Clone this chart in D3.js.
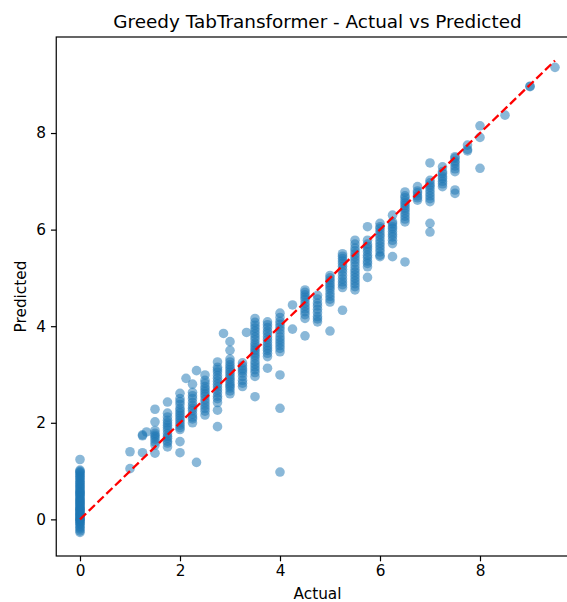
<!DOCTYPE html>
<html>
<head>
<meta charset="utf-8">
<script src="https://cdn.jsdelivr.net/npm/d3@7"></script>
<style>
    html, body { margin: 0; padding: 0; background: #fff; }
    svg { display: block; font-family: "DejaVu Sans", sans-serif; }
</style>
</head>
<body>
<svg id="chart" width="567" height="602"></svg>
<script>
// Actual value levels and the predictions observed at each level
const actualLevels = [0, 1, 1.25, 1.33, 1.5, 1.75, 2, 2.12, 2.25, 2.33, 2.5, 2.75, 2.87, 3, 3.25, 3.33,
    3.5, 3.75, 4, 4.25, 4.5, 4.75, 5, 5.25, 5.5, 5.75, 6, 6.25, 6.5, 6.75, 7, 7.25, 7.5, 7.75, 8, 8.5, 9, 9.5];

const predictedByLevel = [
    [-0.27, -0.24, -0.2, -0.17, -0.14, -0.1, -0.08, -0.06, -0.03, -0.02, 0.0, 0.01, 0.03, 0.05, 0.07, 0.09,
        0.1, 0.12, 0.14, 0.16, 0.18, 0.2, 0.21, 0.23, 0.25, 0.28, 0.3, 0.32, 0.34, 0.36, 0.38, 0.4, 0.42,
        0.45, 0.47, 0.5, 0.52, 0.54, 0.56, 0.58, 0.6, 0.63, 0.66, 0.68, 0.71, 0.74, 0.76, 0.79, 0.82, 0.85,
        0.88, 0.9, 0.93, 0.96, 0.98, 1.0, 1.02, 1.24],
    [1.05, 1.4],
    [1.38, 1.73, 1.75],
    [1.81],
    [1.37, 1.54, 1.6, 1.66, 1.71, 1.74, 1.78, 1.84, 2.02, 2.28],
    [1.5, 1.58, 1.62, 1.68, 1.72, 1.78, 1.85, 1.9, 1.95, 2.0, 2.05, 2.12, 2.2, 2.43],
    [1.38, 1.61, 1.86, 1.9, 1.95, 2.0, 2.05, 2.1, 2.15, 2.2, 2.25, 2.3, 2.38, 2.44, 2.5, 2.61],
    [2.92],
    [2.0, 2.08, 2.12, 2.18, 2.25, 2.3, 2.36, 2.42, 2.5, 2.56, 2.63, 2.8],
    [1.18, 3.08],
    [2.16, 2.24, 2.3, 2.36, 2.42, 2.48, 2.55, 2.6, 2.65, 2.7, 2.75, 2.82, 2.88, 2.99],
    [1.92, 2.26, 2.42, 2.5, 2.55, 2.62, 2.68, 2.74, 2.8, 2.86, 2.92, 2.98, 3.05, 3.1, 3.15, 3.26],
    [3.85],
    [2.6, 2.66, 2.72, 2.76, 2.8, 2.85, 2.9, 2.95, 3.0, 3.05, 3.1, 3.15, 3.2, 3.26, 3.32, 3.5, 3.68],
    [2.75, 2.82, 2.88, 2.96, 3.03, 3.08, 3.12, 3.18, 3.24],
    [3.87],
    [2.54, 2.96, 3.04, 3.1, 3.16, 3.22, 3.28, 3.35, 3.4, 3.45, 3.5, 3.55, 3.6, 3.65, 3.72, 3.78, 3.84,
        3.9, 3.96, 4.02, 4.08, 4.16],
    [3.13, 3.37, 3.44, 3.5, 3.55, 3.6, 3.66, 3.72, 3.78, 3.85, 3.9, 3.97, 4.03, 4.09],
    [0.98, 2.3, 2.99, 3.47, 3.54, 3.6, 3.66, 3.72, 3.78, 3.85, 3.92, 3.98, 4.04, 4.1, 4.18, 4.27],
    [3.94, 4.44],
    [3.8, 4.16, 4.24, 4.3, 4.36, 4.42, 4.48, 4.55, 4.6, 4.65, 4.7, 4.75],
    [4.09, 4.15, 4.2, 4.28, 4.35, 4.42, 4.48, 4.56, 4.64],
    [3.9, 4.5, 4.56, 4.62, 4.68, 4.75, 4.8, 4.85, 4.9, 4.95, 5.0, 5.05],
    [4.33, 4.8, 4.86, 4.92, 4.98, 5.05, 5.12, 5.18, 5.24, 5.3, 5.35, 5.4, 5.45, 5.5],
    [4.75, 4.82, 4.88, 4.94, 5.0, 5.06, 5.12, 5.18, 5.25, 5.32, 5.38, 5.44, 5.5, 5.56, 5.62, 5.7, 5.78],
    [5.01, 5.23, 5.3, 5.35, 5.42, 5.47, 5.54, 5.6, 5.65, 5.7, 5.78, 6.06],
    [5.44, 5.47, 5.54, 5.6, 5.66, 5.72, 5.78, 5.85, 5.9, 5.96, 6.02, 6.06, 6.13],
    [5.44, 5.71, 5.78, 5.85, 5.9, 5.96, 6.02, 6.06, 6.12, 6.16, 6.3],
    [5.33, 6.16, 6.22, 6.28, 6.34, 6.4, 6.45, 6.5, 6.55, 6.6, 6.66, 6.7, 6.78],
    [6.61, 6.66, 6.7, 6.76, 6.8, 6.89],
    [5.95, 6.13, 6.58, 6.64, 6.7, 6.76, 6.82, 6.88, 6.92, 6.97, 7.02, 7.38],
    [6.89, 6.95, 7.0, 7.06, 7.1, 7.16, 7.2, 7.3],
    [6.75, 6.82, 7.2, 7.26, 7.32, 7.38, 7.42, 7.48, 7.51],
    [7.63, 7.66, 7.75],
    [7.27, 7.91, 8.15],
    [8.37],
    [8.96, 8.97],
    [9.36],
];

const xTicks = [0, 2, 4, 6, 8];
const yTicks = [0, 2, 4, 6, 8];

const config = {
    margin: { left: 56.25, top: 37, bottom: 46 },
    plotWidth: 522.5,
    pointRadius: 4.8,
    colors: {
        point: '#1f77b4',
        ideal: '#ff0000',
    },
};

const points = actualLevels.flatMap((a, i) => predictedByLevel[i].map(p => ({ actual: a, predicted: p })));

const svg = d3.select('#chart');
const width = +svg.attr('width');
const height = +svg.attr('height');
const { margin } = config;
const plotHeight = height - margin.top - margin.bottom;

// matplotlib style 5% autoscale margins
function padded([lo, hi]) {
    const pad = (hi - lo) * 0.05;
    return [lo - pad, hi + pad];
}

const actualExtent = d3.extent(points, d => d.actual);
const yExtent = d3.extent([...points.map(d => d.predicted), ...actualExtent]);

const x = d3.scaleLinear()
    .domain(padded(actualExtent))
    .range([margin.left, margin.left + config.plotWidth]);

const y = d3.scaleLinear()
    .domain(padded(yExtent))
    .range([margin.top + plotHeight, margin.top]);

svg.append('rect')
    .attr('width', width)
    .attr('height', height)
    .attr('fill', '#fff');

// Scatter
svg.append('g')
    .selectAll('circle')
    .data(points)
    .enter()
    .append('circle')
    .attr('cx', d => x(d.actual))
    .attr('cy', d => y(d.predicted))
    .attr('r', config.pointRadius)
    .attr('fill', config.colors.point)
    .attr('fill-opacity', 0.52);

// Ideal line y = x
svg.append('line')
    .attr('x1', x(actualExtent[0]))
    .attr('y1', y(actualExtent[0]))
    .attr('x2', x(actualExtent[1]))
    .attr('y2', y(actualExtent[1]))
    .attr('stroke', config.colors.ideal)
    .attr('stroke-width', 2.3)
    .attr('stroke-dasharray', '8.5,3.7');

// Frame
svg.append('rect')
    .attr('x', margin.left)
    .attr('y', margin.top)
    .attr('width', config.plotWidth)
    .attr('height', plotHeight)
    .attr('fill', 'none')
    .attr('stroke', '#000')
    .attr('stroke-width', 1.2);

const xAxis = svg.append('g')
    .attr('transform', `translate(0,${margin.top + plotHeight})`)
    .call(d3.axisBottom(x).tickValues(xTicks).tickFormat(d3.format('d')).tickSize(5.3).tickPadding(4));

const yAxis = svg.append('g')
    .attr('transform', `translate(${margin.left},0)`)
    .call(d3.axisLeft(y).tickValues(yTicks).tickFormat(d3.format('d')).tickSize(5.3).tickPadding(5));

[xAxis, yAxis].forEach(axis => {
    axis.select('.domain').remove();
    axis.selectAll('line').attr('stroke', '#000').attr('stroke-width', 1.2);
    axis.selectAll('text')
        .attr('fill', '#000')
        .style('font-family', '"DejaVu Sans", sans-serif')
        .style('font-size', '15.3px');
});

// Labels
svg.append('text')
    .attr('x', margin.left + config.plotWidth / 2)
    .attr('y', 28)
    .attr('text-anchor', 'middle')
    .style('font-size', '18.4px')
    .text('Greedy TabTransformer - Actual vs Predicted');

svg.append('text')
    .attr('x', margin.left + config.plotWidth / 2)
    .attr('y', 599)
    .attr('text-anchor', 'middle')
    .style('font-size', '15.3px')
    .text('Actual');

svg.append('text')
    .attr('transform', `translate(26,${margin.top + plotHeight / 2}) rotate(-90)`)
    .attr('text-anchor', 'middle')
    .style('font-size', '15.3px')
    .text('Predicted');
</script>
</body>
</html>
